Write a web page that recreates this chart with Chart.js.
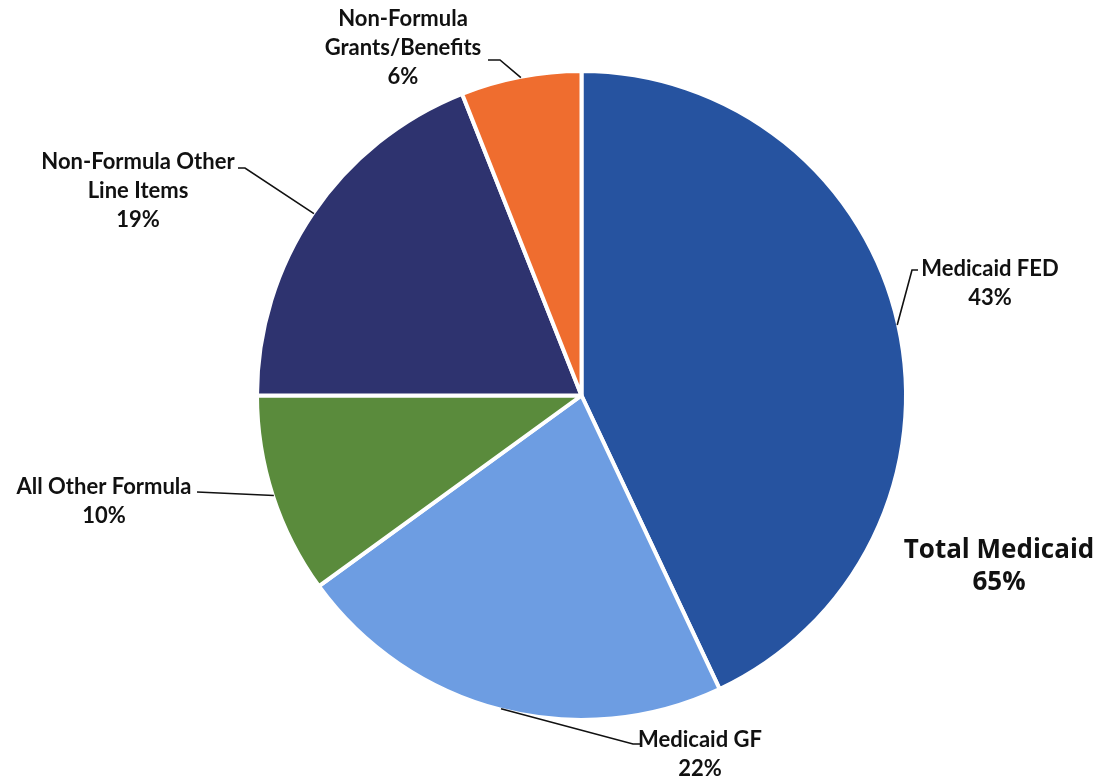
<!DOCTYPE html>
<html>
<head>
<meta charset="utf-8">
<script src="https://cdn.jsdelivr.net/npm/chart.js@4"></script>
<style>
  html, body { margin: 0; padding: 0; background: #ffffff; }
  #wrap { width: 1099px; height: 780px; position: relative; }
</style>
</head>
<body>
<div id="wrap"><canvas id="pieChart" width="1099" height="780"></canvas></div>
<script>
// --- DATA ---
const categories = ['Medicaid FED', 'Medicaid GF', 'All Other Formula', 'Non-Formula Other Line Items', 'Non-Formula Grants/Benefits'];
const shares = [43, 22, 10, 19, 6];
const labelLines = [
    ['Medicaid FED'],
    ['Medicaid GF'],
    ['All Other Formula'],
    ['Non-Formula Other', 'Line Items'],
    ['Non-Formula', 'Grants/Benefits']
];
const sliceColors = ['#2653a0', '#6d9de2', '#5a8b3c', '#2e336f', '#ef6d2f'];
const totalLabel = ['Total Medicaid', '65%'];

// where each label sits and where its leader bends (layout only)
const labelLayout = [
    { x: 990, y: 269, elbowX: 912, elbowY: 270, endX: 918 },
    { x: 700, y: 740, elbowX: 633, elbowY: 744, endX: 640 },
    { x: 104, y: 487, elbowX: 197, elbowY: 492, endX: 197 },
    { x: 138, y: 162, elbowX: 245, elbowY: 168, endX: 238 },
    { x: 403, y: 19, elbowX: 500, elbowY: 60, endX: 488 }
];

document.addEventListener('DOMContentLoaded', function () {
    const labelFont = 'bold 22px Lato, "Open Sans", sans-serif';
    const lineGap = 29;

    const leaderLabels = {
        id: 'leaderLabels',
        afterDraw(chart) {
            const ctx = chart.ctx;
            const arcs = chart.getDatasetMeta(0).data;
            ctx.save();
            arcs.forEach((arc, i) => {
                const p = arc.getProps(['x', 'y', 'startAngle', 'endAngle', 'outerRadius'], true);
                const mid = (p.startAngle + p.endAngle) / 2;
                const ax = p.x + Math.cos(mid) * (p.outerRadius - 1);
                const ay = p.y + Math.sin(mid) * (p.outerRadius - 1);
                const lay = labelLayout[i];

                ctx.strokeStyle = '#111111';
                ctx.lineWidth = 1.6;
                ctx.beginPath();
                ctx.moveTo(ax, ay);
                ctx.lineTo(lay.elbowX, lay.elbowY);
                ctx.lineTo(lay.endX, lay.elbowY);
                ctx.stroke();

                ctx.fillStyle = '#111111';
                ctx.font = labelFont;
                ctx.textAlign = 'center';
                ctx.textBaseline = 'middle';
                const lines = labelLines[i].concat([shares[i] + '%']);
                lines.forEach((t, k) => ctx.fillText(t, lay.x, lay.y + k * lineGap));
            });

            // combined Medicaid label
            ctx.fillStyle = '#111111';
            ctx.font = 'bold 26px "Open Sans", Lato, sans-serif';
            ctx.textAlign = 'center';
            ctx.textBaseline = 'middle';
            ctx.fillText(totalLabel[0], 999, 551);
            ctx.fillText(totalLabel[1], 999, 583);
            ctx.restore();
        }
    };

    const ctx = document.getElementById('pieChart').getContext('2d');
    new Chart(ctx, {
        type: 'pie',
        data: {
            labels: categories,
            datasets: [{
                data: shares,
                backgroundColor: sliceColors,
                borderColor: '#ffffff',
                borderWidth: 4
            }]
        },
        options: {
            responsive: false,
            animation: false,
            layout: {
                padding: { top: 69, bottom: 58, left: 254, right: 190 }
            },
            plugins: {
                legend: { display: false },
                tooltip: { enabled: false }
            }
        },
        plugins: [leaderLabels]
    });
});
</script>
</body>
</html>
